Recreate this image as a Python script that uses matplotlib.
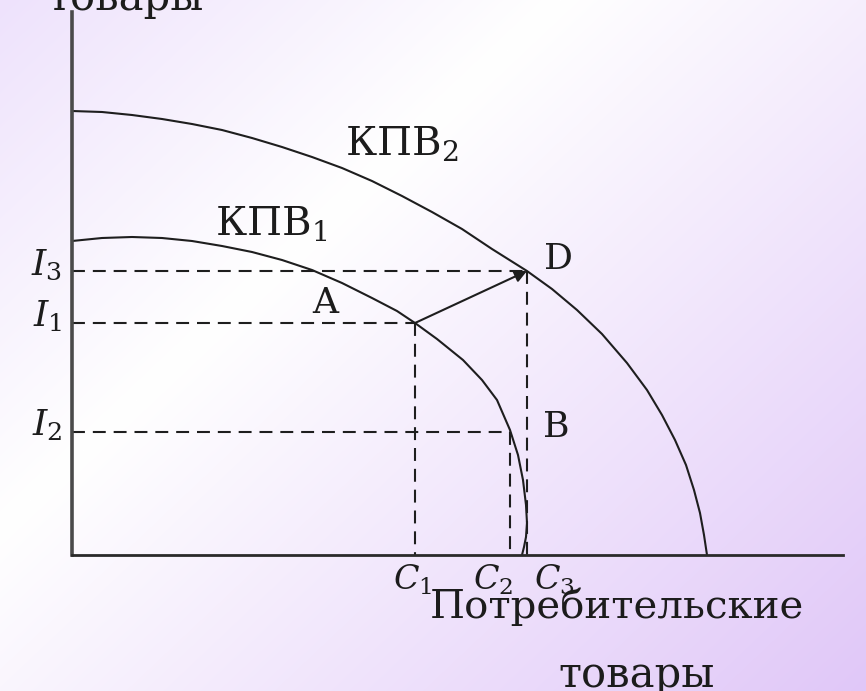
import matplotlib
matplotlib.use("Agg")
import matplotlib.pyplot as plt
import numpy as np

plt.rcParams['font.family'] = ['DejaVu Serif']
plt.rcParams['mathtext.fontset'] = 'custom'
plt.rcParams['mathtext.rm'] = 'DejaVu Serif'
plt.rcParams['mathtext.it'] = 'DejaVu Serif:italic'

# production possibilities curves (arbitrary units)
kpv2_x = [0, 30, 60, 90, 120, 150, 180, 210, 240, 270, 300, 330, 360, 390, 420, 455,
          480, 505, 530, 555, 575, 590, 603, 614, 622, 628, 632, 635]
kpv2_y = [444, 443, 440, 436, 431, 425, 417, 408, 398, 387, 374, 359, 343, 326, 306, 284,
          266, 245, 221, 192, 165, 140, 115, 90, 65, 42, 20, 0]

kpv1_x = [0, 30, 60, 90, 120, 150, 180, 210, 240, 270, 300, 325, 343, 365, 391, 410,
          425, 438, 446, 451, 454, 455, 454, 452, 450]
kpv1_y = [314, 317, 318, 317, 314, 309, 303, 295, 285, 272, 257, 244, 232, 216, 195, 175,
          155, 125, 100, 75, 50, 32, 18, 8, 0]

# points A, B, D
point_names = ['A', 'B', 'D']
point_x = [343, 438, 455]
point_y = [232, 123, 284]

# levels on the axes
i_labels = ['$I_1$', '$I_2$', '$I_3$']
c_labels = ['$C_1$', '$C_2$', '$C_3$']

fig = plt.figure(figsize=(8.66, 6.91), dpi=100)

# background gradient
bg = fig.add_axes([0, 0, 1, 1], zorder=-1)
W, H = 866, 691
xx, yy = np.meshgrid(np.arange(W), np.arange(H))
s = xx + 1.06 * yy
stops = [0, 560, 1600]
cols = np.array([[238, 226, 252], [255, 255, 255], [224, 199, 248]]) / 255
img = np.stack([np.interp(s, stops, cols[:, k]) for k in range(3)], axis=-1)
bg.imshow(img, aspect='auto', extent=[0, W, H, 0])
bg.set_axis_off()

ax = fig.add_axes([72 / 866, 136 / 691, 771 / 866, 543 / 691])
ax.set_facecolor('none')
ax.set_xlim(0, 771)
ax.set_ylim(0, 543)
for side in ['top', 'right']:
    ax.spines[side].set_visible(False)
ax.spines['left'].set_linewidth(2.6)
ax.spines['left'].set_color('#4a4a4a')
ax.spines['bottom'].set_linewidth(2.0)
ax.spines['bottom'].set_color('#2a2a2a')
ax.set_xticks([])
ax.set_yticks([])

line_col = '#1e1e1e'
ax.plot(kpv2_x, kpv2_y, color=line_col, lw=1.5, clip_on=False)
ax.plot(kpv1_x, kpv1_y, color=line_col, lw=1.5, clip_on=False)

# dashed guides
dash = (0, (6.2, 3.8))
xa, xb, xd = point_x
ya, yb, yd = point_y
for px, py in zip(point_x, point_y):
    ax.plot([0, px], [py, py], color=line_col, lw=1.5, linestyle=dash)
    ax.plot([px, px], [py, 0], color=line_col, lw=1.5, linestyle=dash)

# shift arrow A -> D
ax.annotate('', xy=(xd, yd), xytext=(xa, ya),
            arrowprops=dict(arrowstyle='-|>', color=line_col, lw=1.5,
                            mutation_scale=18, shrinkA=0, shrinkB=0))

txt_col = '#1c1c1c'
label_off = {'A': (-90, 20), 'B': (46, 5), 'D': (31, 12)}
for name, px, py in zip(point_names, point_x, point_y):
    dx, dy = label_off[name]
    ax.text(px + dx, py + dy, name, fontsize=26, color=txt_col, ha='center', va='center')

ax.text(273, 400, 'КПВ$_2$', fontsize=29, color=txt_col, ha='left', va='baseline')
ax.text(143, 320, 'КПВ$_1$', fontsize=29, color=txt_col, ha='left', va='baseline')

for lab, lev in zip(i_labels, [ya, yb, yd]):
    ax.text(-10, lev - 4, lab, fontsize=26, color=txt_col, ha='right', va='baseline')

c_shift = [-2, -17, 27]
for lab, lev, sh in zip(c_labels, [xa, xb, xd], c_shift):
    ax.text(lev + sh, -35, lab, fontsize=24, color=txt_col, ha='center', va='baseline')

ax.text(358, -63, 'Потребительские', fontsize=29, color=txt_col, ha='left', va='baseline')
ax.text(565, -132, 'товары', fontsize=30, color=txt_col, ha='center', va='baseline')
ax.text(54, 545, 'товары', fontsize=30, color=txt_col, ha='center', va='baseline')

fig.savefig('out.png', dpi=100)
